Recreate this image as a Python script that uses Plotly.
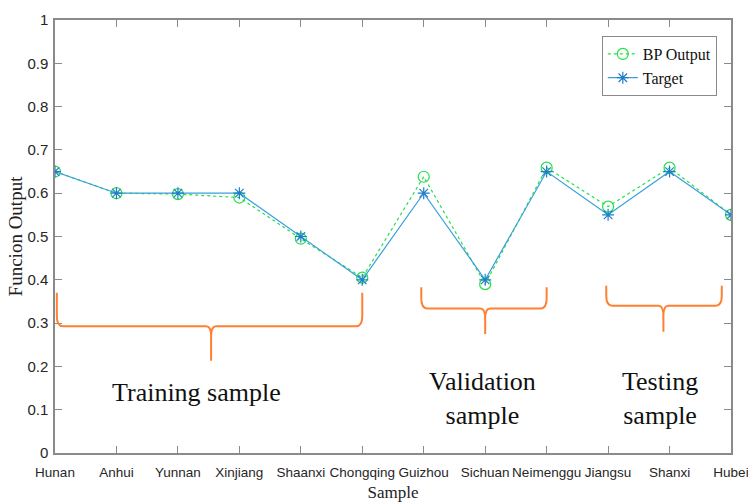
import plotly.graph_objects as go

provinces = ["Hunan", "Anhui", "Yunnan", "Xinjiang", "Shaanxi", "Chongqing",
             "Guizhou", "Sichuan", "Neimenggu", "Jiangsu", "Shanxi", "Hubei"]
bp_output = [0.650, 0.600, 0.598, 0.590, 0.495, 0.405, 0.638, 0.390, 0.659, 0.569, 0.659, 0.550]
target = [0.65, 0.60, 0.60, 0.60, 0.50, 0.40, 0.60, 0.40, 0.65, 0.55, 0.65, 0.55]

# brace annotations: (left, right, centre, top of ends, bar level, tip)
brace_left = [0.03, 5.96, 8.97]
brace_right = [5.0, 8.0, 10.85]
brace_center = [2.54, 7.0, 9.9]
brace_top = [0.37, 0.383, 0.386]
brace_bar = [0.293, 0.334, 0.340]
brace_tip = [0.213, 0.275, 0.280]

group_labels = ["Training sample", "Validation<br>sample", "Testing<br>sample"]
label_x = [2.31, 6.95, 9.85]
label_y = [0.14, 0.125, 0.126]

xs = list(range(len(provinces)))

fig = go.Figure()
fig.add_trace(go.Scatter(
    x=xs, y=bp_output, name="BP Output", mode="lines+markers",
    line=dict(color="#22E048", width=1.2, dash="dot"),
    marker=dict(symbol="circle-open", size=11, color="#22E048", line=dict(width=1.2, color="#22E048")),
))
fig.add_trace(go.Scatter(
    x=xs, y=target, name="Target", mode="lines+markers",
    line=dict(color="#3AA0DC", width=1.2),
    marker=dict(symbol="asterisk-open", size=10, color="#1E7FC8", line=dict(width=1.2, color="#1E7FC8")),
))

dx = 0.1
dy = 0.023
for x0, x1, xc, yt, yb, yp in zip(brace_left, brace_right, brace_center, brace_top, brace_bar, brace_tip):
    d1 = 0.08
    path = (f"M {x0},{yt} L {x0},{yb+dy} Q {x0},{yb} {x0+dx},{yb} "
            f"L {xc-d1},{yb} Q {xc},{yb} {xc},{yb-dy} L {xc},{yp} "
            f"M {xc},{yb-dy} Q {xc},{yb} {xc+d1},{yb} "
            f"L {x1-dx},{yb} Q {x1},{yb} {x1},{yb+dy} L {x1},{yt}")
    fig.add_shape(type="path", path=path, xref="x", yref="y",
                  line=dict(color="#FF8033", width=2))

for t, x, y in zip(group_labels, label_x, label_y):
    fig.add_annotation(x=x, y=y, text=t, showarrow=False, xref="x", yref="y",
                       font=dict(family="Liberation Serif", size=26, color="#111111"),
                       align="center")

axis_common = dict(showgrid=False, zeroline=False, showline=True, mirror="ticks",
                   linecolor="#8a8a8a", linewidth=1.5, ticks="inside", ticklen=7,
                   tickcolor="#8a8a8a", tickwidth=1, automargin=False,
                   ticklabeloverflow="allow")

fig.update_xaxes(range=[0, 11], tickvals=xs, ticktext=provinces, ticklabelstandoff=6,
                 tickfont=dict(family="Liberation Sans", size=13.5, color="#262626"),
                 title=dict(text="Sample", font=dict(family="Liberation Serif", size=17, color="#222"), standoff=15),
                 **axis_common)
fig.update_yaxes(range=[0, 1], tickvals=[i / 10 for i in range(11)],
                 ticktext=["0"] + [f"{i/10:g}" for i in range(1, 10)] + ["1"],
                 ticklabelstandoff=2,
                 tickfont=dict(family="Liberation Sans", size=15, color="#262626"),
                 title=dict(text="Funcion Output", font=dict(family="Liberation Serif", size=19, color="#222"), standoff=0),
                 **axis_common)

fig.update_layout(
    width=748, height=502,
    margin=dict(l=55, r=17, t=20, b=49),
    plot_bgcolor="white", paper_bgcolor="white",
    legend=dict(x=0.979, y=0.963, xanchor="right", yanchor="top",
                bgcolor="white", bordercolor="#8a8a8a", borderwidth=1,
                font=dict(family="Liberation Serif", size=16, color="#111"),
                tracegroupgap=0, itemwidth=30),
    showlegend=True,
)

fig.write_html("out.html", config={"displayModeBar": False},
               post_script="document.body.style.margin='0';document.body.style.padding='0';")
